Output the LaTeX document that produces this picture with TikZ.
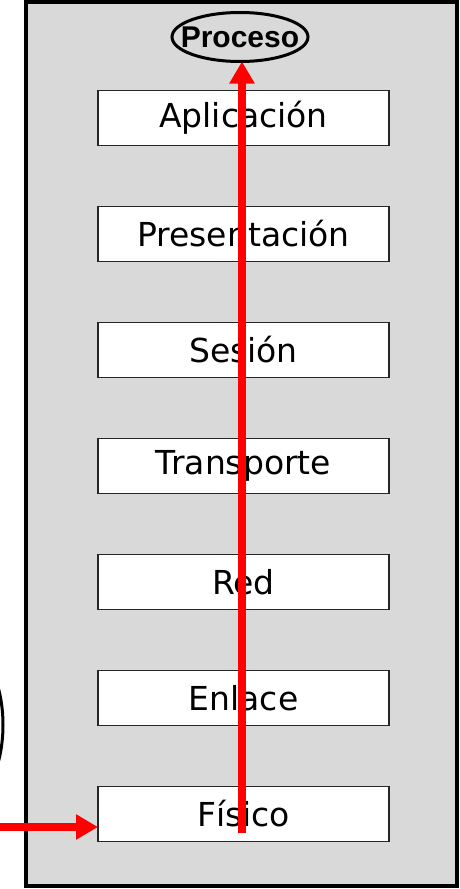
\documentclass[tikz,border=0pt]{standalone}
\usepackage{fontspec}
\newfontfamily\comicfont{DejaVu Sans}
\newfontfamily\arialfont{Liberation Sans}
\usetikzlibrary{arrows.meta,positioning,shapes.geometric}
\tikzset{
    %Define standard arrow tip
    >={Triangle[width=24pt,length=22pt]},
    %Define style for layer boxes
    capa/.style={
           rectangle,
           draw=black!85, line width=1.3pt,
           fill=white,
           minimum width=291pt,
           minimum height=55pt,
           inner sep=0pt, outer sep=0pt,
           font=\comicfont\fontsize{33}{36}\selectfont,
           text centered},
    %Define style for the process
    proceso/.style={
           ellipse,
           draw=black, line width=3pt,
           minimum width=136pt,
           minimum height=49pt,
           inner sep=0pt, outer sep=0pt,
           font=\arialfont\bfseries\fontsize{30}{32}\selectfont,
           text centered}, 
    % Define arrow style
    flecha/.style={
           ->,
           draw=red,
           line width=8pt}
}
\begin{document}
\begin{tikzpicture}[x=1pt,y=-1pt,node distance=61pt]
\useasboundingbox (0,0) rectangle (459,889);
 %frame
\draw[line width=4pt, fill=black!15] (25.5,2) rectangle (456.5,886);
\begin{scope}
\clip (0,0) rectangle (459,889);
\draw[line width=3pt] (-50,725) ellipse [x radius=53pt, y radius=90pt];
\end{scope}
 %nodes
\node[proceso] (proc) at (240,37) {\makebox[0pt]{Proceso}};
\node[capa] (aplicacion) at (243.5,118) {Aplicación};
\node[capa, below=of aplicacion] (presentacion) {Presentación};
\node[capa, below=of presentacion] (sesion) {Sesión};
\node[capa, below=of sesion] (transporte) {Transporte};
\node[capa, below=of transporte] (red) {Red};
\node[capa, below=of red] (enlace) {Enlace};
\node[capa, below=of enlace] (fisico) {Físico};
 %arrows
\coordinate (sube) at (242,833);
\coordinate (entra) at (0,827);
\draw[flecha] (sube) -- (sube |- proc.south);
\draw[flecha] (entra) -- (entra -| fisico.west);
\end{tikzpicture}
\end{document}
